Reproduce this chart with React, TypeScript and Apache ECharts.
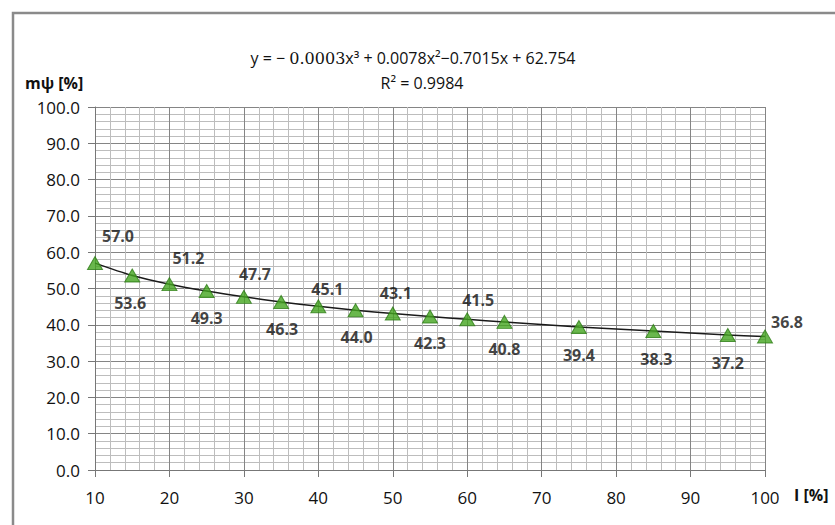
import React, { useEffect, useRef } from "react";
import * as echarts from "echarts";

// Load I [%] and measured mψ [%]
const loadLevels = [10, 15, 20, 25, 30, 35, 40, 45, 50, 55, 60, 65, 75, 85, 95, 100];
const mPsiValues = [57.0, 53.6, 51.2, 49.3, 47.7, 46.3, 45.1, 44.0, 43.1, 42.3, 41.5, 40.8, 39.4, 38.3, 37.2, 36.8];

// Where each value label sits relative to its marker
const labelOffsets: [number, number][] = [
  [23, -27], [-2, 28], [19, -26], [0, 27], [11, -23], [1, 27], [9, -17], [1, 27],
  [3, -21], [0, 27], [11, -19], [0, 27], [0, 28], [3, 28], [0, 28], [22, -14],
];

const xTicks = [10, 20, 30, 40, 50, 60, 70, 80, 90, 100];
const yTicks = [0, 10, 20, 30, 40, 50, 60, 70, 80, 90, 100];

const FONT = "'Open Sans', 'Liberation Sans', sans-serif";

export default function App() {
  const ref = useRef<HTMLDivElement>(null);

  useEffect(() => {
    document.body.style.margin = "0";
    if (!ref.current) return;
    const chart = echarts.init(ref.current, null, { renderer: "svg" });

    const points = loadLevels.map((x, i) => ({
      value: [x, mPsiValues[i]],
      label: { offset: labelOffsets[i] },
    }));

    chart.setOption({
      animation: false,
      backgroundColor: "#ffffff",
      grid: { left: 95, right: 70, top: 107, bottom: 55 },
      xAxis: {
        type: "value",
        min: xTicks[0],
        max: xTicks[xTicks.length - 1],
        interval: 10,
        axisLine: { show: true, lineStyle: { color: "#777777", width: 1 } },
        axisTick: { show: true, length: 7, lineStyle: { color: "#777777" } },
        axisLabel: { margin: 19, fontSize: 17, fontWeight: 500, color: "#111111", fontFamily: FONT },
        splitLine: { show: true, lineStyle: { color: "#858585", width: 1 } },
        minorTick: { show: false, splitNumber: 5 },
        minorSplitLine: { show: true, lineStyle: { color: "#bdbdbd", width: 1 } },
      },
      yAxis: {
        type: "value",
        min: yTicks[0],
        max: yTicks[yTicks.length - 1],
        interval: 10,
        axisLine: { show: true, lineStyle: { color: "#777777", width: 1 } },
        axisTick: { show: true, length: 7, lineStyle: { color: "#777777" } },
        axisLabel: {
          margin: 15,
          fontSize: 17,
          fontWeight: 500,
          color: "#111111",
          fontFamily: FONT,
          formatter: (v: number) => v.toFixed(1),
        },
        splitLine: { show: true, lineStyle: { color: "#858585", width: 1 } },
        minorTick: { show: false, splitNumber: 5 },
        minorSplitLine: { show: true, lineStyle: { color: "#bdbdbd", width: 1 } },
      },
      series: [
        {
          type: "line",
          data: loadLevels.map((x, i) => [x, mPsiValues[i]]),
          smooth: 0.3,
          showSymbol: false,
          lineStyle: { color: "#1a1a1a", width: 1.5 },
          z: 2,
        },
        {
          type: "scatter",
          data: points,
          symbol: "triangle",
          symbolSize: [15, 13],
          itemStyle: { color: "#43a51f", borderColor: "#2e7d17", borderWidth: 1 },
          label: {
            show: true,
            position: "inside",
            fontSize: 16,
            fontWeight: "bold",
            color: "#111111",
            fontFamily: FONT,
            formatter: (p: any) => p.value[1].toFixed(1),
          },
          z: 3,
        },
      ],
      graphic: [
        {
          type: "rect",
          shape: { x: 13, y: 13, width: 900, height: 600 },
          style: { fill: "none", stroke: "#8a8a8a", lineWidth: 2.5 },
          silent: true,
        },
        {
          type: "text",
          x: 413,
          y: 58,
          style: {
            text: "{a|y = − }{b|0.0003}{a|x³ + 0.0078x²−0.7015x + 62.754}",
            align: "center",
            verticalAlign: "middle",
            rich: {
              a: { fontSize: 16, fontFamily: FONT, fill: "#111111" },
              b: { fontSize: 16, fontFamily: "'DejaVu Serif', 'Liberation Serif', serif", fill: "#111111" },
            },
          },
        },
        {
          type: "text",
          x: 422,
          y: 83,
          style: {
            text: "R² = 0.9984",
            align: "center",
            verticalAlign: "middle",
            fontSize: 16,
            fontFamily: FONT,
            fill: "#111111",
          },
        },
        {
          type: "text",
          x: 25,
          y: 83,
          style: {
            text: "mψ [%]",
            verticalAlign: "middle",
            fontSize: 16,
            fontWeight: "bold",
            fontFamily: FONT,
            fill: "#111111",
          },
        },
        {
          type: "text",
          x: 794,
          y: 495,
          style: {
            text: "I [%]",
            verticalAlign: "middle",
            fontSize: 16,
            fontWeight: "bold",
            fontFamily: FONT,
            fill: "#111111",
          },
        },
      ],
    });

    return () => chart.dispose();
  }, []);

  return <div ref={ref} style={{ width: 835, height: 525 }} />;
}
